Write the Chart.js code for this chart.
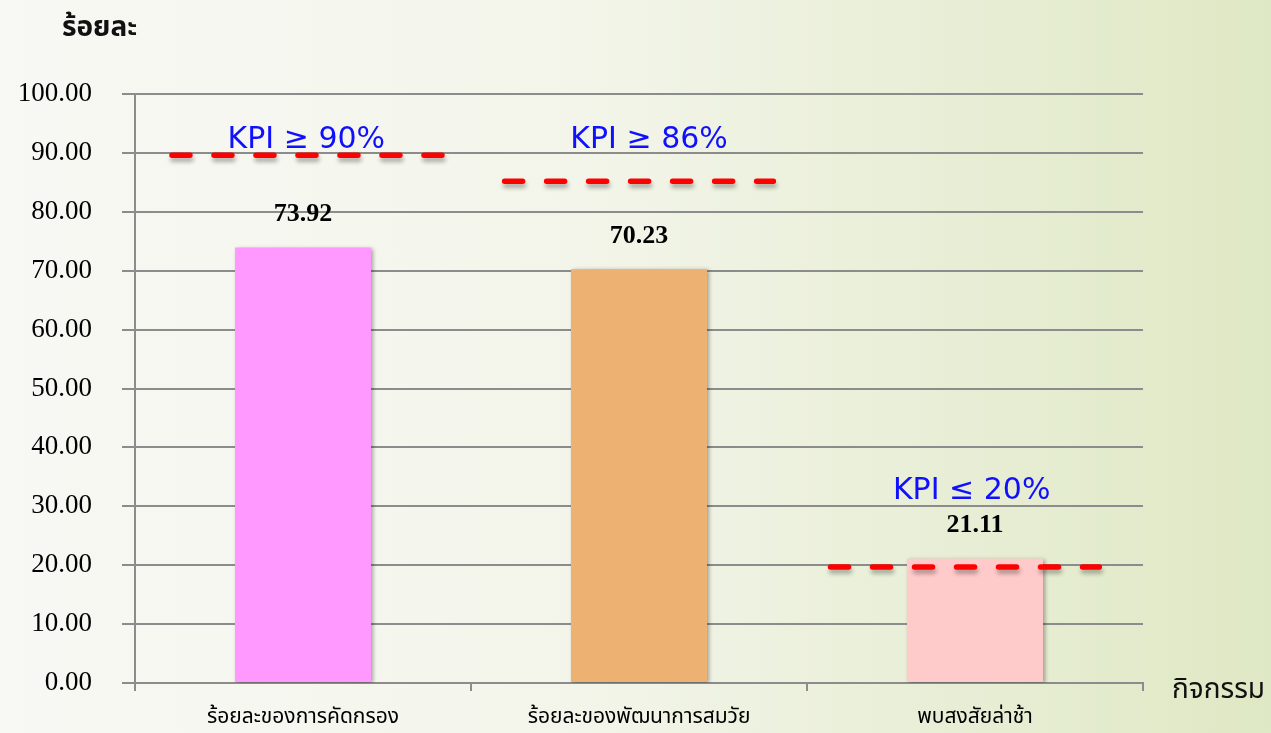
<!DOCTYPE html>
<html>
<head>
<meta charset="utf-8">
<script src="https://cdn.jsdelivr.net/npm/chart.js@4/dist/chart.umd.min.js"></script>
<style>
html,body{margin:0;padding:0;}
body{width:1271px;height:733px;overflow:hidden;background:linear-gradient(to right,#f8f8f4 0%,#f3f5ea 45%,#e6edd2 80%,#dfe8c4 100%);}
#wrap{position:relative;width:1271px;height:733px;}
</style>
</head>
<body>
<div id="wrap"><canvas id="c" width="1271" height="733"></canvas></div>
<script>
const categories = ['ร้อยละของการคัดกรอง', 'ร้อยละของพัฒนาการสมวัย', 'พบสงสัยล่าช้า'];
const values = [73.92, 70.23, 21.11];
const barColors = ['#ff99ff', '#edb172', '#ffcaca'];
const kpiValues = [89.6, 85.2, 19.7];
const kpiStart = [0.11, 1.10, 2.07];
const kpiEnd = [0.92, 1.90, 2.87];
const kpiLabels = ['KPI ≥ 90%', 'KPI ≥ 86%', 'KPI ≤ 20%'];
const kpiLabelX = [0.51, 1.53, 2.49];
const kpiLabelY = [92.2, 92.2, 32.5];
const yTitle = 'ร้อยละ';
const xTitle = 'กิจกรรม';

const thaiFont = 'Tahoma, "Noto Sans Thai", "Noto Sans Thai UI", Loma, Garuda, "Noto Sans", sans-serif';
const serifFont = '"Liberation Serif", "Times New Roman", serif';

const kpiDatasets = kpiValues.map((v, i) => ({
  type: 'line',
  xAxisID: 'x2',
  data: [{x: kpiStart[i], y: v}, {x: kpiEnd[i], y: v}],
  borderColor: '#ff0000',
  borderWidth: 5.5,
  borderDash: [18, 24],
  borderCapStyle: 'round',
  pointRadius: 0,
  fill: false,
  order: 1,
  isKpi: true
}));

const shadowPlugin = {
  id: 'shadows',
  beforeDatasetDraw(chart, args) {
    const ds = chart.data.datasets[args.index];
    const ctx = chart.ctx;
    ctx.save();
    if (ds.isKpi) {
      ctx.shadowColor = 'rgba(0,0,0,0.3)';
      ctx.shadowBlur = 4;
      ctx.shadowOffsetX = 1;
      ctx.shadowOffsetY = 4;
    } else {
      ctx.shadowColor = 'rgba(0,0,0,0.35)';
      ctx.shadowBlur = 4;
      ctx.shadowOffsetX = 2;
      ctx.shadowOffsetY = 1;
    }
  },
  afterDatasetDraw(chart) {
    chart.ctx.restore();
  }
};

const labelPlugin = {
  id: 'labels',
  afterDraw(chart) {
    const ctx = chart.ctx;
    const xs = chart.scales.x, x2 = chart.scales.x2, ys = chart.scales.y;
    ctx.save();
    ctx.fillStyle = '#000';
    ctx.font = 'bold 26px ' + serifFont;
    ctx.textAlign = 'center';
    ctx.textBaseline = 'middle';
    values.forEach((v, i) => {
      ctx.fillText(v.toFixed(2), xs.getPixelForValue(i), ys.getPixelForValue(v) - 33);
    });
    ctx.fillStyle = '#1010ff';
    ctx.font = '30px "DejaVu Sans", Tahoma, sans-serif';
    kpiLabels.forEach((t, i) => {
      ctx.fillText(t, x2.getPixelForValue(kpiLabelX[i]), ys.getPixelForValue(kpiLabelY[i]));
    });
    ctx.fillStyle = '#111';
    ctx.textAlign = 'left';
    ctx.font = 'bold 28px ' + thaiFont;
    ctx.fillText(yTitle, 62, 30);
    ctx.font = '28px ' + thaiFont;
    ctx.fillText(xTitle, 1172, 692);
    ctx.restore();
  }
};

new Chart(document.getElementById('c'), {
  type: 'bar',
  data: {
    labels: categories,
    datasets: [{
      data: values,
      backgroundColor: barColors,
      borderWidth: 0,
      grouped: false,
      categoryPercentage: 1,
      barPercentage: 0.405,
      order: 2
    }, ...kpiDatasets]
  },
  plugins: [shadowPlugin, labelPlugin],
  options: {
    responsive: false,
    animation: false,
    layout: {padding: {left: 0, right: 128, top: 94, bottom: 0}},
    plugins: {legend: {display: false}, tooltip: {enabled: false}},
    scales: {
      x: {
        type: 'category',
        offset: true,
        afterFit(s) { s.height = 50; },
        grid: {display: true, drawOnChartArea: false, drawTicks: true, tickLength: 8, color: '#8c8c8c', lineWidth: 2, offset: true},
        border: {display: true, color: '#8c8c8c', width: 2},
        ticks: {color: '#000', font: {family: thaiFont, size: 21}, padding: 15, maxRotation: 0, autoSkip: false}
      },
      x2: {type: 'linear', min: 0, max: 3, display: false, offset: false, grid: {offset: false}},
      y: {
        min: 0, max: 100,
        afterFit(s) { s.width = 135; },
        grid: {color: '#8c8c8c', lineWidth: 2, tickLength: 13},
        border: {display: true, color: '#8c8c8c', width: 2},
        ticks: {stepSize: 10, color: '#000', padding: 30, font: {family: serifFont, size: 27}, callback: v => Number(v).toFixed(2)}
      }
    }
  }
});
</script>
</body>
</html>
